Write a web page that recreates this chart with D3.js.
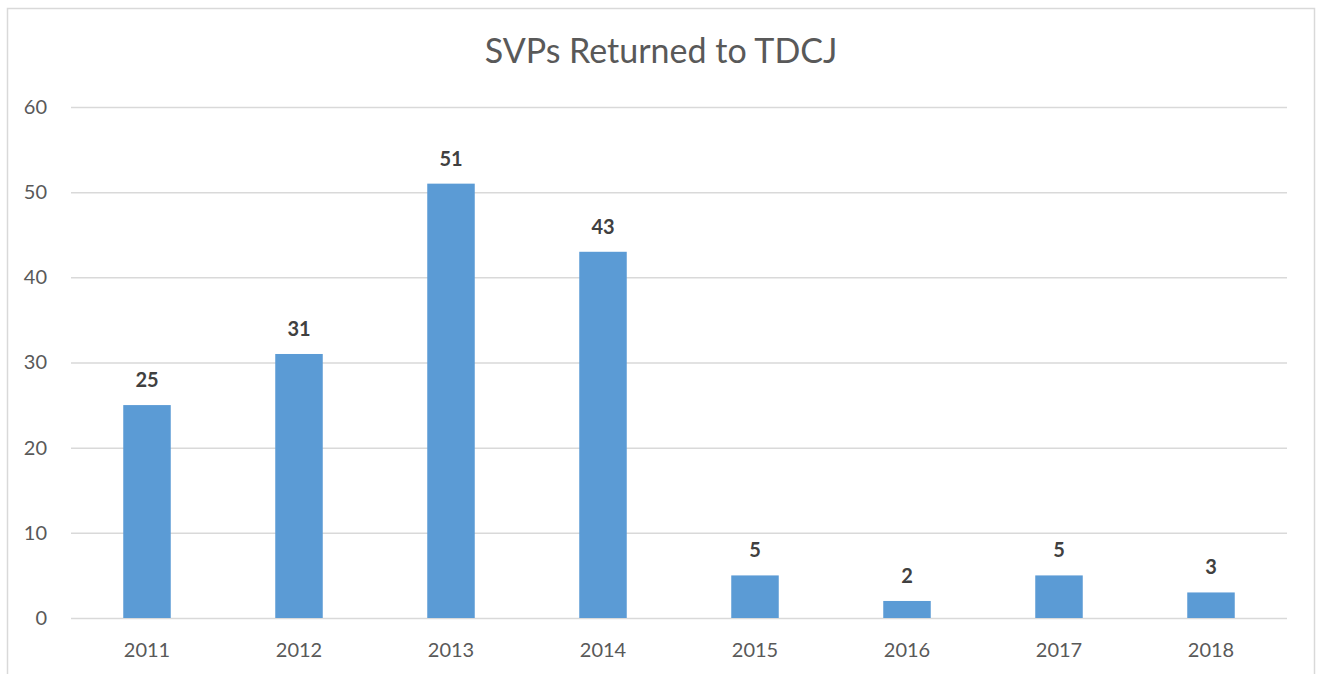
<!DOCTYPE html>
<html lang="en">
<head>
<meta charset="UTF-8">
<title>SVPs Returned to TDCJ</title>
<script src="https://d3js.org/d3.v7.min.js"></script>
<style>
    body { margin: 0; padding: 0; background: #ffffff; }
    svg { display: block; font-family: Lato, "Open Sans", sans-serif; }
</style>
</head>
<body>
<svg id="chart"></svg>
<script>
const years = ["2011", "2012", "2013", "2014", "2015", "2016", "2017", "2018"];
const returned = [25, 31, 51, 43, 5, 2, 5, 3];
const yTicks = [0, 10, 20, 30, 40, 50, 60];
const chartTitle = "SVPs Returned to TDCJ";

const width = 1318, height = 674;
const margin = { top: 107, right: 31, bottom: 56, left: 71 };

const svg = d3.select("#chart")
    .attr("width", width)
    .attr("height", height);

// chart area border (bottom runs past the picture)
svg.append("rect")
    .attr("x", 7.5).attr("y", 8.5)
    .attr("width", 1307).attr("height", 700)
    .attr("fill", "#ffffff")
    .attr("stroke", "#d9d9d9")
    .attr("stroke-width", 1.5);

const x = d3.scaleBand()
    .domain(years)
    .range([margin.left, width - margin.right])
    .paddingInner(0.6875)
    .paddingOuter(0.34375);

const y = d3.scaleLinear()
    .domain([0, 60])
    .range([height - margin.bottom, margin.top]);

// gridlines + y labels
const yAxis = d3.axisLeft(y)
    .tickValues(yTicks)
    .tickSize(-(width - margin.left - margin.right))
    .tickPadding(24);

const yg = svg.append("g")
    .attr("transform", `translate(${margin.left},0)`)
    .call(yAxis);
yg.select(".domain").remove();
yg.selectAll(".tick line").attr("stroke", "#d9d9d9").attr("stroke-width", 1.5);
yg.selectAll(".tick text")
    .attr("fill", "#595959")
    .style("font-size", "20px")
    .style("font-family", "Lato, sans-serif");

// bars
svg.append("g").selectAll("rect")
    .data(years)
    .join("rect")
    .attr("x", d => x(d))
    .attr("y", (d, i) => y(returned[i]))
    .attr("width", x.bandwidth())
    .attr("height", (d, i) => y(0) - y(returned[i]))
    .attr("fill", "#5b9bd5");

// value labels
svg.append("g").selectAll("text")
    .data(years)
    .join("text")
    .attr("x", d => x(d) + x.bandwidth() / 2)
    .attr("y", (d, i) => y(returned[i]) - 18)
    .attr("text-anchor", "middle")
    .attr("fill", "#404040")
    .style("font-size", "20px")
    .style("font-weight", "bold")
    .text((d, i) => returned[i]);

// x axis labels
const xAxis = d3.axisBottom(x).tickSize(0).tickPadding(0);
const xg = svg.append("g")
    .attr("transform", `translate(0,${y(0)})`)
    .call(xAxis);
xg.select(".domain").remove();
xg.selectAll(".tick text")
    .attr("dy", null)
    .attr("y", 39)
    .attr("fill", "#595959")
    .style("font-size", "20px")
    .style("font-family", "Lato, sans-serif");

// title
svg.append("text")
    .attr("x", 661)
    .attr("y", 63)
    .attr("text-anchor", "middle")
    .attr("fill", "#595959")
    .style("font-size", "34px")
    .text(chartTitle);
</script>
</body>
</html>
